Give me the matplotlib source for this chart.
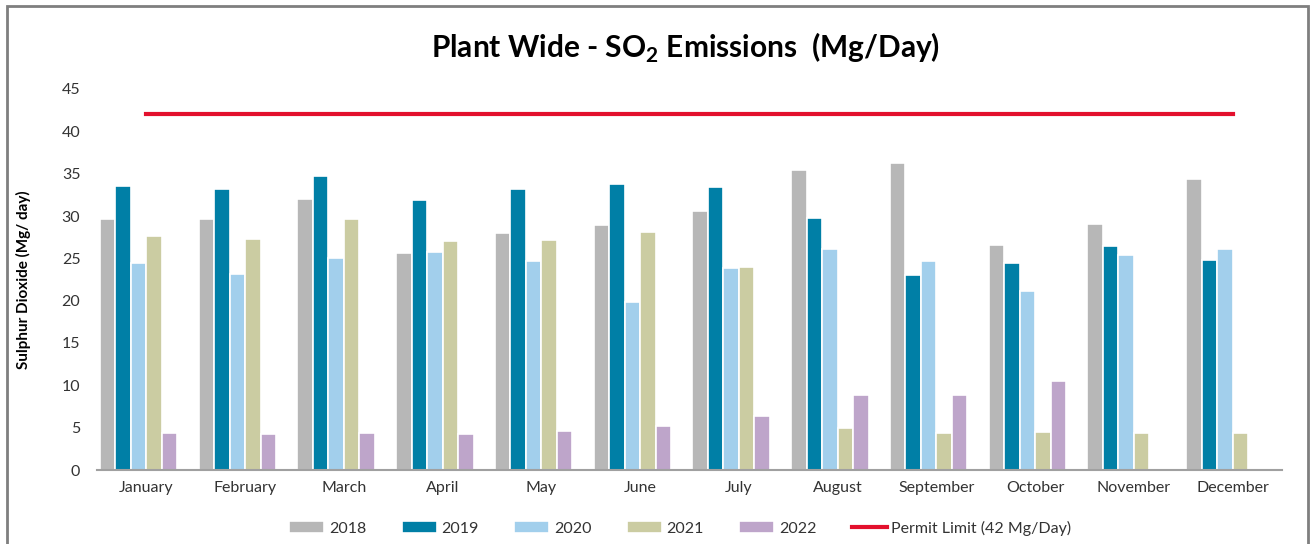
import matplotlib
matplotlib.use("Agg")
import matplotlib.pyplot as plt
import numpy as np
from matplotlib.patches import Rectangle

months = ["January", "February", "March", "April", "May", "June", "July",
          "August", "September", "October", "November", "December"]
years = ["2018", "2019", "2020", "2021", "2022"]
v2018 = [29.7, 29.7, 32.0, 25.6, 27.95, 28.9, 30.55, 35.4, 36.3, 26.6, 29.1, 34.4]
v2019 = [33.5, 33.2, 34.7, 31.9, 33.15, 33.8, 33.4, 29.8, 23.0, 24.4, 26.4, 24.8]
v2020 = [24.4, 23.2, 25.0, 25.7, 24.7, 19.9, 23.8, 26.1, 24.7, 21.1, 25.4, 26.1]
v2021 = [27.6, 27.3, 29.7, 27.0, 27.2, 28.1, 24.0, 5.0, 4.4, 4.5, 4.4, 4.4]
v2022 = [4.4, 4.3, 4.4, 4.3, 4.6, 5.2, 6.4, 8.9, 8.9, 10.5, np.nan, np.nan]
permit = [42] * 12
series = [v2018, v2019, v2020, v2021, v2022]
colors = ["#B7B7B7", "#007FA6", "#A2CFEC", "#CBCCA2", "#BEA5CA"]

plt.rcParams['font.family'] = ['Lato', 'DejaVu Sans']
txtc = "#333333"

fig = plt.figure(figsize=(13.11, 5.44), dpi=100)
ax = fig.add_axes([97/1311, 1-470/544, (1282-97)/1311, (470-89)/544])

x = np.arange(len(months))
slot = 0.157
handles = []
for i, (vals, c, lab) in enumerate(zip(series, colors, years)):
    h = ax.bar(x + (i - 2.5) * slot, vals, width=slot, color=c, edgecolor="white",
               linewidth=1.2, label=lab)
    handles.append(h)
ln, = ax.plot(x, permit, color="#E3102D", linewidth=3, label="Permit Limit (42 Mg/Day)")
handles.append(ln)

ax.set_xlim(-0.5, len(months) - 0.5)
ax.set_ylim(0, 45)
ax.set_yticks(np.arange(0, 46, 5))
ax.set_xticks(x)
ax.set_xticklabels(months, fontsize=11.5)
ax.tick_params(axis="y", labelsize=11.5, length=0, pad=12, labelcolor=txtc)
ax.tick_params(axis="x", length=0, pad=8, labelcolor=txtc)
for s in ["top", "right", "left"]:
    ax.spines[s].set_visible(False)
ax.spines["bottom"].set_color("#A0A0A0")
ax.spines["bottom"].set_linewidth(1.5)
ax.set_ylabel("Sulphur Dioxide (Mg/ day)", fontsize=11, fontweight="bold", labelpad=22)

fig.text(0.523, 1 - 48/544, r"Plant Wide - SO$_\mathregular{2}$ Emissions  (Mg/Day)",
         ha="center", va="center", fontsize=21.5, fontweight="bold")

leg = fig.legend(handles=handles, loc="center", bbox_to_anchor=(0.519, 1 - 528/544), ncol=6,
                 frameon=False, fontsize=11.5, handlelength=2.2, handleheight=0.7,
                 columnspacing=2.2, handletextpad=0.3)
for t in leg.get_texts():
    t.set_color(txtc)

fig.patches.append(Rectangle((7/1311, -0.05), (1308-7)/1311, 1 - 6/544 + 0.05,
                             transform=fig.transFigure, fill=False,
                             edgecolor="#7F7F7F", linewidth=2))

fig.savefig("out.png", dpi=100)
